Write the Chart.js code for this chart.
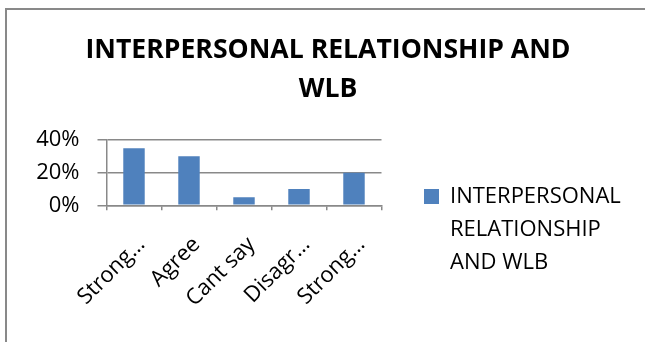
<!DOCTYPE html>
<html><head><meta charset="utf-8">
<script src="https://cdn.jsdelivr.net/npm/chart.js@4/dist/chart.umd.min.js"></script>
<style>
html,body{margin:0;padding:0;background:#fff;}
#wrap{position:relative;width:645px;height:342px;overflow:hidden;}
#frame{position:absolute;left:5px;top:8px;width:700px;height:400px;border-left:2px solid #898989;border-top:2px solid #898989;}
canvas{position:absolute;left:0;top:0;}
</style></head><body>
<div id="wrap"><div id="frame"></div><canvas id="c" width="645" height="342"></canvas></div>
<script>
const categories = ['Strong…', 'Agree', 'Cant say', 'Disagr…', 'Strong…'];
const seriesName = 'INTERPERSONAL RELATIONSHIP AND WLB';
const seriesValues = [0.35, 0.30, 0.05, 0.10, 0.20];
const yTicks = [0, 0.2, 0.4];
const titleLines = ['INTERPERSONAL RELATIONSHIP AND', 'WLB'];
const legendLines = ['INTERPERSONAL', 'RELATIONSHIP', 'AND WLB'];

const FONT = 'Open Sans';
const LABEL_SIZE = 22;
const barColor = '#4F81BD';
const axisColor = '#898989';
const PAD = { left: 11, right: 0, top: 0, bottom: 15 };
const PLOT_LEFT = 106.5, PLOT_RIGHT = 381.5, PLOT_BOTTOM = 205.3;

// keep the legend box at a fixed width so the plot area ends where the reference's does
const legendWidthPlugin = {
  id: 'legendWidth',
  beforeLayout(chart) {
    const lg = chart.legend;
    if (lg && !lg._wPatched) {
      const orig = lg.fit;
      lg.fit = function () {
        orig.call(this);
        if (this.options.display) this.width = 645 - PAD.right - PLOT_RIGHT;
      };
      lg._wPatched = true;
    }
  }
};

new Chart(document.getElementById('c'), {
  type: 'bar',
  data: {
    labels: categories,
    datasets: [{
      label: seriesName,
      data: seriesValues,
      backgroundColor: barColor,
      borderWidth: 0,
      barPercentage: 0.39,
      categoryPercentage: 1
    }]
  },
  plugins: [legendWidthPlugin],
  options: {
    responsive: false,
    animation: false,
    layout: { padding: PAD },
    plugins: {
      title: {
        display: true, text: titleLines, color: '#000',
        font: { family: FONT, size: 26.6, weight: 'bold', lineHeight: 39 / 26.6 },
        padding: { top: 31, bottom: 31 }
      },
      legend: {
        position: 'right', align: 'end',
        labels: {
          boxWidth: 15, boxHeight: 15, padding: 42.5, color: '#000',
          font: { family: FONT, size: LABEL_SIZE, lineHeight: 33 / LABEL_SIZE },
          generateLabels: (chart) => [{
            text: legendLines, fillStyle: barColor, strokeStyle: barColor,
            lineWidth: 0, hidden: false, datasetIndex: 0
          }]
        }
      },
      tooltip: { enabled: false }
    },
    scales: {
      x: {
        grid: { display: true, drawOnChartArea: false, offset: true, color: axisColor, lineWidth: 1.5, tickLength: 5 },
        border: { color: axisColor, width: 1.5 },
        ticks: { color: '#000', font: { family: FONT, size: LABEL_SIZE }, minRotation: 45, maxRotation: 45,
          autoSkip: false, padding: 21.4, labelOffset: 7.5 },
        afterFit: (s) => { s.height = 342 - PAD.bottom - PLOT_BOTTOM; }
      },
      y: {
        min: 0, max: 0.4,
        afterBuildTicks: (s) => { s.ticks = yTicks.map(v => ({ value: v })); },
        ticks: { color: '#000', font: { family: FONT, size: LABEL_SIZE }, padding: 18,
          callback: (v) => Math.round(v * 100) + '%' },
        grid: { color: axisColor, lineWidth: 1.5, tickLength: 9 },
        border: { color: axisColor, width: 1.5 },
        afterFit: (s) => { s.width = PLOT_LEFT - PAD.left; }
      }
    }
  }
});
</script>
</body></html>
